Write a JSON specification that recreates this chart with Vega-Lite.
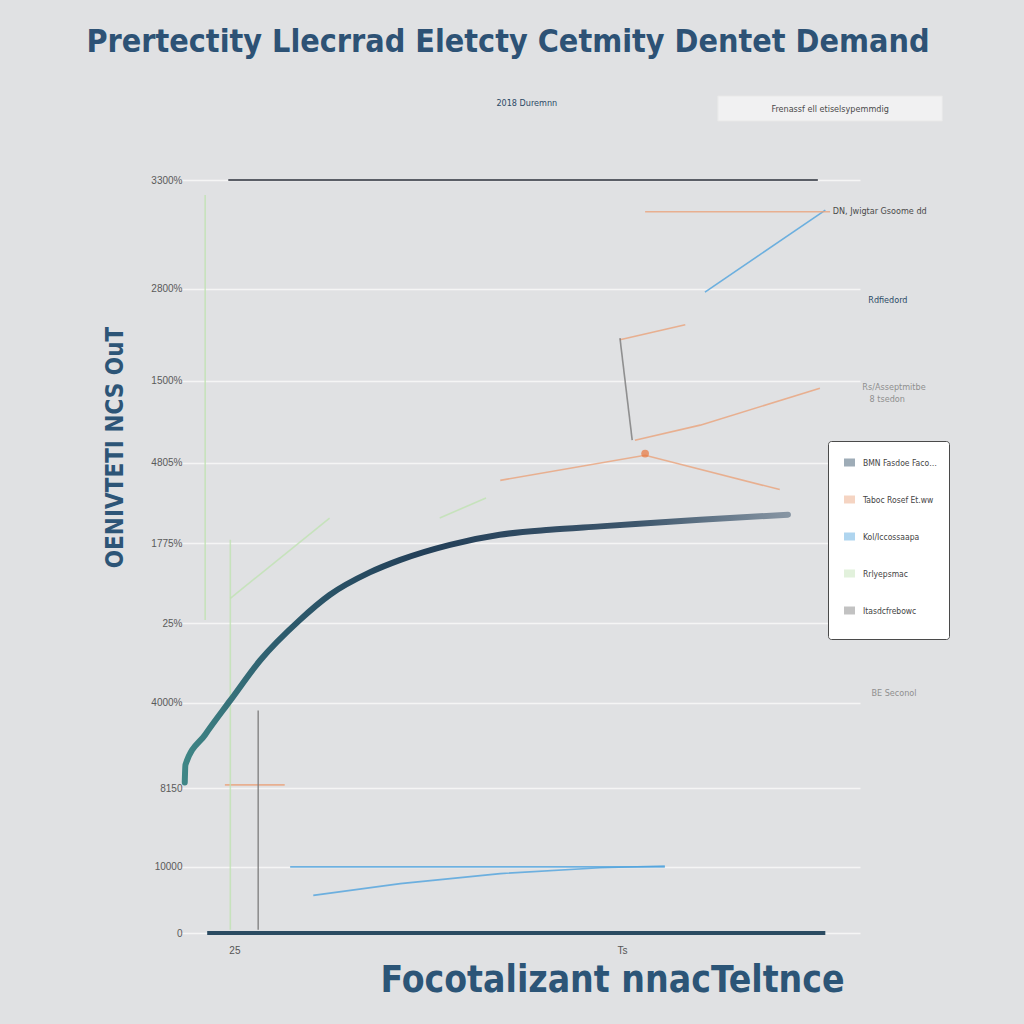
{
  "$schema": "https://vega.github.io/schema/vega-lite/v6.json",
  "width": 680,
  "height": 753,
  "autosize": "none",
  "padding": {"left": 180, "top": 180, "right": 164, "bottom": 91},
  "background": "#e0e1e3",
  "config": {"view": {"stroke": null}, "font": "Liberation Sans"},
  "title": {
    "text": "Prertectity Llecrrad Eletcty Cetmity Dentet Demand",
    "font": "DejaVu Sans Condensed",
    "fontSize": 32,
    "fontWeight": "bold",
    "color": "#2d5275",
    "anchor": "middle",
    "offset": 36,
    "dx": -12
  },
  "datasets": {
    "lines": [
      {"seg": "main", "series": "BMN Fasdoe Faconpoisat", "x": 0.7, "y": 180},
      {"seg": "main", "series": "BMN Fasdoe Faconpoisat", "x": 0.8, "y": 201},
      {"seg": "main", "series": "BMN Fasdoe Faconpoisat", "x": 3.7, "y": 237},
      {"seg": "main", "series": "BMN Fasdoe Faconpoisat", "x": 7.4, "y": 278},
      {"seg": "main", "series": "BMN Fasdoe Faconpoisat", "x": 11.8, "y": 326},
      {"seg": "main", "series": "BMN Fasdoe Faconpoisat", "x": 17.6, "y": 374},
      {"seg": "main", "series": "BMN Fasdoe Faconpoisat", "x": 22, "y": 404},
      {"seg": "main", "series": "BMN Fasdoe Faconpoisat", "x": 27.9, "y": 431},
      {"seg": "main", "series": "BMN Fasdoe Faconpoisat", "x": 32.4, "y": 446},
      {"seg": "main", "series": "BMN Fasdoe Faconpoisat", "x": 39.7, "y": 464},
      {"seg": "main", "series": "BMN Fasdoe Faconpoisat", "x": 47, "y": 476},
      {"seg": "main", "series": "BMN Fasdoe Faconpoisat", "x": 54.4, "y": 482},
      {"seg": "main", "series": "BMN Fasdoe Faconpoisat", "x": 61.8, "y": 486},
      {"seg": "main", "series": "BMN Fasdoe Faconpoisat", "x": 76.5, "y": 494},
      {"seg": "main", "series": "BMN Fasdoe Faconpoisat", "x": 89.4, "y": 500},

      {"seg": "b1", "series": "Kol/Iccossaapa", "x": 19.6, "y": 45},
      {"seg": "b1", "series": "Kol/Iccossaapa", "x": 32.4, "y": 59},
      {"seg": "b1", "series": "Kol/Iccossaapa", "x": 47.1, "y": 71},
      {"seg": "b1", "series": "Kol/Iccossaapa", "x": 61.8, "y": 78},
      {"seg": "b1", "series": "Kol/Iccossaapa", "x": 71.3, "y": 80},
      {"seg": "b2", "series": "Kol/Iccossaapa", "x": 16.2, "y": 79},
      {"seg": "b2", "series": "Kol/Iccossaapa", "x": 71.3, "y": 79},
      {"seg": "b3", "series": "Kol/Iccossaapa", "x": 77.2, "y": 766},
      {"seg": "b3", "series": "Kol/Iccossaapa", "x": 94.9, "y": 864},

      {"seg": "o1", "series": "Taboc Rosef Et.ww", "x": 47.1, "y": 541},
      {"seg": "o1", "series": "Taboc Rosef Et.ww", "x": 68.4, "y": 571},
      {"seg": "o1", "series": "Taboc Rosef Et.ww", "x": 88.2, "y": 530},
      {"seg": "o2", "series": "Taboc Rosef Et.ww", "x": 66.9, "y": 589},
      {"seg": "o2", "series": "Taboc Rosef Et.ww", "x": 76.5, "y": 607},
      {"seg": "o2", "series": "Taboc Rosef Et.ww", "x": 94.1, "y": 651},
      {"seg": "o3", "series": "Taboc Rosef Et.ww", "x": 64.7, "y": 709},
      {"seg": "o3", "series": "Taboc Rosef Et.ww", "x": 74.3, "y": 727},
      {"seg": "o4", "series": "Taboc Rosef Et.ww", "x": 68.4, "y": 862},
      {"seg": "o4", "series": "Taboc Rosef Et.ww", "x": 95.6, "y": 862},
      {"seg": "o5", "series": "Taboc Rosef Et.ww", "x": 6.6, "y": 177},
      {"seg": "o5", "series": "Taboc Rosef Et.ww", "x": 15.4, "y": 177},

      {"seg": "g1", "series": "Rrlyepsmac", "x": 3.7, "y": 882},
      {"seg": "g1", "series": "Rrlyepsmac", "x": 3.7, "y": 374},
      {"seg": "g2", "series": "Rrlyepsmac", "x": 7.4, "y": 400},
      {"seg": "g2", "series": "Rrlyepsmac", "x": 22, "y": 496},
      {"seg": "g3", "series": "Rrlyepsmac", "x": 38.2, "y": 496},
      {"seg": "g3", "series": "Rrlyepsmac", "x": 45, "y": 520},
      {"seg": "g4", "series": "Rrlyepsmac", "x": 7.4, "y": 470},
      {"seg": "g4", "series": "Rrlyepsmac", "x": 7.4, "y": 4},

      {"seg": "k1", "series": "Itasdcfrebowc", "x": 64.7, "y": 711},
      {"seg": "k1", "series": "Itasdcfrebowc", "x": 66.5, "y": 589},
      {"seg": "k2", "series": "Itasdcfrebowc", "x": 11.5, "y": 266},
      {"seg": "k2", "series": "Itasdcfrebowc", "x": 11.5, "y": 4}
    ],
    "rules": [
      {"kind": "top", "x": 7.1, "x2": 93.8, "y": 900},
      {"kind": "base", "x": 4, "x2": 94.9, "y": 0}
    ],
    "notes": [
      {"label": "DN, Jwigtar Gsoome dd", "x": 102.9, "y": 863, "tone": "mid"},
      {"label": "Rdfiedord", "x": 104.1, "y": 757, "tone": "dark"},
      {"label": "Rs/Asseptmitbe", "x": 105, "y": 653, "tone": "light"},
      {"label": "8 tsedon", "x": 104, "y": 638, "tone": "light"},
      {"label": "BE Seconol", "x": 105, "y": 287, "tone": "light"},
      {"label": "2018 Duremnn", "x": 51, "y": 992, "tone": "dark"},
      {"label": "Frenassf ell etiselsypemmdig", "x": 95.6, "y": 985, "tone": "mid"}
    ],
    "boxes": [
      {"x": 79.1, "x2": 112.1, "y": 970.5, "y2": 1000.4}
    ],
    "dots": [
      {"x": 68.4, "y": 573}
    ]
  },
  "layer": [
    {
      "data": {"name": "boxes"},
      "mark": {"type": "rect", "fill": "#f1f1f2", "stroke": "#e8e8e8"},
      "encoding": {
        "x": {"field": "x", "type": "quantitative", "scale": {"domain": [0, 100]},
          "axis": {
            "values": [8, 65],
            "labelExpr": "datum.value == 8 ? '25' : 'Ts'",
            "domain": false, "ticks": false, "grid": false,
            "labelFontSize": 10, "labelColor": "#555", "labelPadding": 12,
            "title": "Focotalizant nnacTeltnce",
            "titleFont": "DejaVu Sans Condensed",
            "titleFontSize": 37, "titleFontWeight": "bold", "titleColor": "#2c5577",
            "titleX": 432, "titleY": 47, "titleAlign": "center", "titleBaseline": "middle", "titleAnchor": null
          }},
        "x2": {"field": "x2"},
        "y": {"field": "y", "type": "quantitative", "scale": {"domain": [0, 900]},
          "axis": {
            "values": [0, 79, 173, 275, 370, 466, 562, 660, 770, 900],
            "labelExpr": "datum.value == 0 ? '0' : datum.value == 79 ? '10000' : datum.value == 173 ? '8150' : datum.value == 275 ? '4000%' : datum.value == 370 ? '25%' : datum.value == 466 ? '1775%' : datum.value == 562 ? '4805%' : datum.value == 660 ? '1500%' : datum.value == 770 ? '2800%' : '3300%'",
            "domain": false, "ticks": false,
            "gridColor": "#f5f5f5", "gridWidth": 1.5,
            "labelFontSize": 10, "labelColor": "#5a5a5a", "labelPadding": -2,
            "title": "OENIVTETI NCS OuT",
            "titleFont": "DejaVu Sans Condensed",
            "titleFontSize": 24, "titleFontWeight": "bold", "titleColor": "#2d5577",
            "titleAngle": 270, "titleX": -65, "titleY": 267, "titleAlign": "center", "titleBaseline": "middle", "titleAnchor": null
          }},
        "y2": {"field": "y2"}
      }
    },
    {
      "data": {"name": "rules"},
      "transform": [{"filter": "datum.kind == 'top'"}],
      "mark": {"type": "rule", "color": "#5a5e66", "strokeWidth": 2},
      "encoding": {
        "x": {"field": "x", "type": "quantitative"},
        "x2": {"field": "x2"},
        "y": {"field": "y", "type": "quantitative"}
      }
    },
    {
      "data": {"name": "rules"},
      "transform": [{"filter": "datum.kind == 'base'"}],
      "mark": {"type": "rule", "color": "#2b4b62", "strokeWidth": 4},
      "encoding": {
        "x": {"field": "x", "type": "quantitative"},
        "x2": {"field": "x2"},
        "y": {"field": "y", "type": "quantitative"}
      }
    },
    {
      "data": {"name": "lines"},
      "transform": [{"filter": "datum.seg != 'main'"}],
      "mark": {"type": "line", "strokeWidth": 1.6, "opacity": 0.8},
      "encoding": {
        "x": {"field": "x", "type": "quantitative"},
        "y": {"field": "y", "type": "quantitative"},
        "detail": {"field": "seg"},
        "order": {"field": "x", "type": "quantitative"},
        "color": {
          "field": "series", "type": "nominal",
          "scale": {
            "domain": ["BMN Fasdoe Faconpoisat", "Taboc Rosef Et.ww", "Kol/Iccossaapa", "Rrlyepsmac", "Itasdcfrebowc"],
            "range": ["#2a4862", "#eaa27a", "#4fa3dd", "#bfe2b2", "#7a7a7a"]
          },
          "legend": {
            "orient": "none", "legendX": 648, "legendY": 261,
            "title": null,
            "fillColor": "#ffffff", "strokeColor": "#4a4a4a", "padding": 12, "cornerRadius": 3,
            "symbolType": "stroke", "symbolSize": 120, "symbolStrokeWidth": 8, "symbolOpacity": 0.45,
            "labelFontSize": 8.5, "labelColor": "#444", "labelLimit": 78,
            "labelFont": "DejaVu Sans Condensed",
            "rowPadding": 4
          }
        }
      }
    },
    {
      "data": {"name": "lines"},
      "transform": [{"filter": "datum.seg == 'main'"}],
      "mark": {
        "type": "line", "strokeWidth": 6, "strokeCap": "round", "interpolate": "monotone",
        "color": {
          "gradient": "linear", "x1": 0, "y1": 0, "x2": 1, "y2": 0,
          "stops": [
            {"offset": 0, "color": "#3f8686"},
            {"offset": 0.15, "color": "#2e5d6e"},
            {"offset": 0.4, "color": "#233f58"},
            {"offset": 0.75, "color": "#3d566c"},
            {"offset": 1, "color": "#8795a3"}
          ]
        }
      },
      "encoding": {
        "x": {"field": "x", "type": "quantitative"},
        "y": {"field": "y", "type": "quantitative"}
      }
    },
    {
      "data": {"name": "dots"},
      "mark": {"type": "point", "filled": true, "color": "#e8783f", "size": 60},
      "encoding": {
        "x": {"field": "x", "type": "quantitative"},
        "y": {"field": "y", "type": "quantitative"}
      }
    },
    {
      "data": {"name": "notes"},
      "mark": {"type": "text", "fontSize": 9, "font": "DejaVu Sans Condensed"},
      "encoding": {
        "x": {"field": "x", "type": "quantitative"},
        "y": {"field": "y", "type": "quantitative"},
        "text": {"field": "label"},
        "fill": {"field": "tone", "type": "nominal", "scale": {"domain": ["dark", "mid", "light"], "range": ["#2c4a66", "#4a4a4a", "#8f8f8f"]}, "legend": null}
      }
    }
  ]
}
